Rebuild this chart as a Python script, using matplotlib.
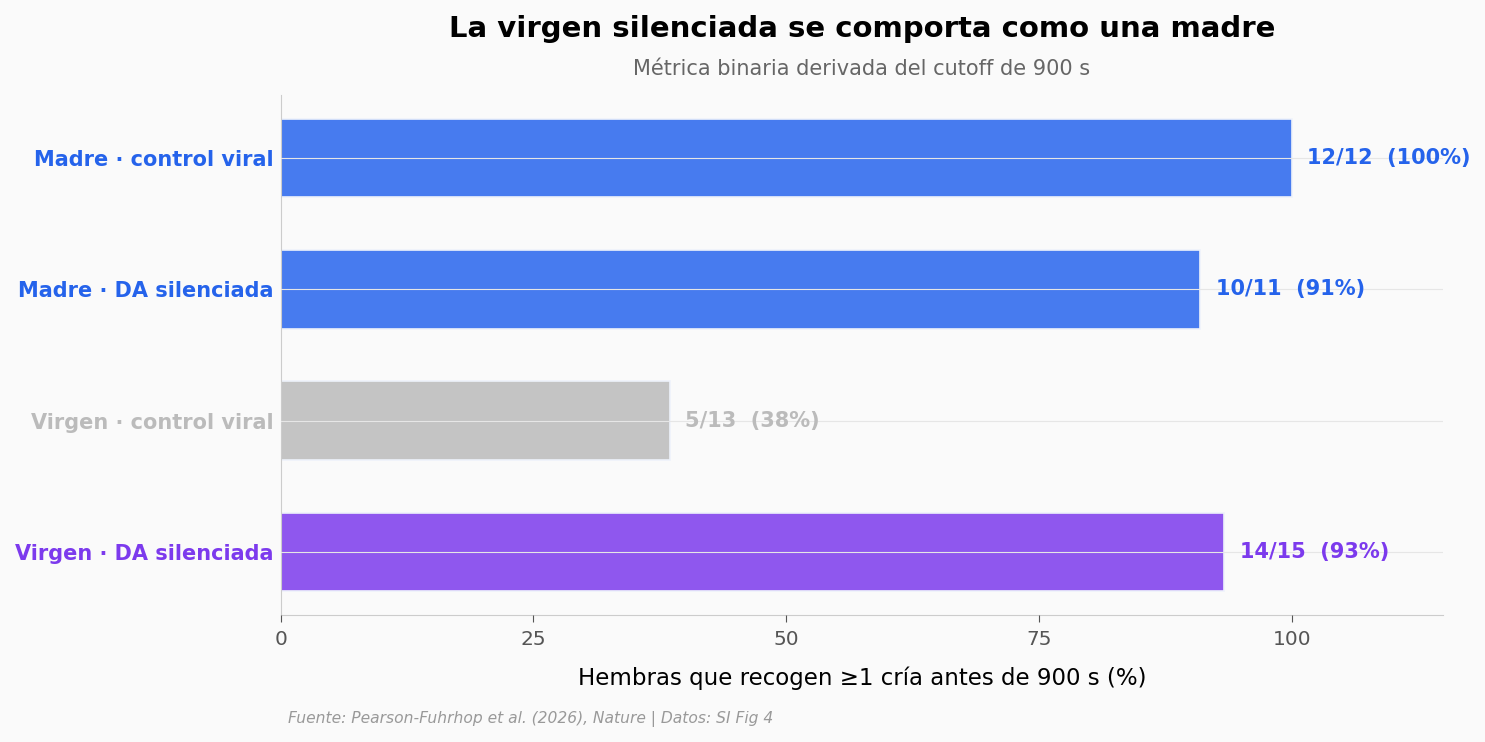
import matplotlib
matplotlib.use("Agg")
from matplotlib import pyplot as plt

groups = ["Madre · control viral", "Madre · DA silenciada",
          "Virgen · control viral", "Virgen · DA silenciada"]
n_yes = [12, 10, 5, 14]
n_total = [12, 11, 13, 15]
text_colors = ["#2563eb", "#2563eb", "#bbbbbb", "#7c3aed"]
bar_colors = ["#477bef", "#477bef", "#c4c4c4", "#8f57ee"]

pct = [a / b * 100 for a, b in zip(n_yes, n_total)]

fig = plt.figure(figsize=(14.85, 7.42), dpi=100, facecolor="#fafafa")
ax = fig.add_axes([0.189, 0.171, 0.783, 0.701])
ax.set_facecolor("#fafafa")

y = list(range(len(groups)))
ax.barh(y, pct, height=0.6, color=bar_colors, edgecolor="#eef2fb", linewidth=1.2, zorder=1)
ax.invert_yaxis()

for yi, p, a, b, col in zip(y, pct, n_yes, n_total, text_colors):
    ax.text(p + 1.55, yi, f"{a}/{b}  ({p:.0f}%)", va="center", ha="left",
            fontsize=15, fontweight="bold", color=col, zorder=3)

ax.set_yticks(y)
ax.set_yticklabels(groups, fontsize=15, fontweight="bold")
for lbl, col in zip(ax.get_yticklabels(), text_colors):
    lbl.set_color(col)
ax.tick_params(axis="y", length=0, pad=5)
ax.tick_params(axis="x", labelsize=14.5, labelcolor="#555555", color="#555555",
               length=5, pad=6)

ax.set_xlim(0, 115)
ax.set_xticks([0, 25, 50, 75, 100])
ax.grid(axis="y", color="#e6e6e6", linewidth=0.8, zorder=2)
ax.set_axisbelow(False)
ax.grid(axis="x", visible=False)

for s in ["top", "right"]:
    ax.spines[s].set_visible(False)
for s in ["left", "bottom"]:
    ax.spines[s].set_color("#cccccc")

ax.set_xlabel("Hembras que recogen ≥1 cría antes de 900 s (%)", fontsize=16.5, labelpad=12)
ax.text(0.5, 1.127, "La virgen silenciada se comporta como una madre",
        transform=ax.transAxes, ha="center", va="center", fontsize=21, fontweight="bold")
ax.text(0.5, 1.05, "Métrica binaria derivada del cutoff de 900 s",
        transform=ax.transAxes, ha="center", va="center", fontsize=15, color="#666666")
fig.text(288 / 1485, 1 - 719 / 742, "Fuente: Pearson-Fuhrhop et al. (2026), Nature | Datos: SI Fig 4",
         ha="left", va="center", fontsize=11.2, style="italic", color="#999999")

fig.savefig("out.png", dpi=100, facecolor=fig.get_facecolor())
